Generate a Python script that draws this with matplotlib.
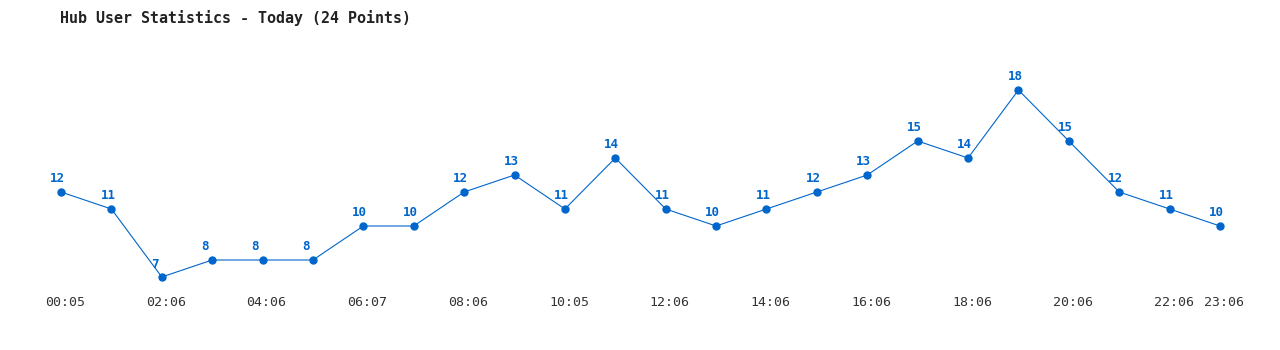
import matplotlib
matplotlib.use("Agg")
import matplotlib.pyplot as plt

values = [12, 11, 7, 8, 8, 8, 10, 10, 12, 13, 11, 14, 11, 10, 11, 12, 13, 15, 14, 18, 15, 12, 11, 10]
tick_positions = [0, 2, 4, 6, 8, 10, 12, 14, 16, 18, 20, 22, 23]
tick_labels = ["00:05", "02:06", "04:06", "06:07", "08:06", "10:05", "12:06",
               "14:06", "16:06", "18:06", "20:06", "22:06", "23:06"]
title = "Hub User Statistics - Today (24 Points)"

W, H = 1280, 350
fig = plt.figure(figsize=(W / 100, H / 100), dpi=100)
ax = fig.add_axes([0, 0, 1, 1])

# pixel mapping: index 0 -> x=61, 23 -> x=1220; value 7 -> y=277, 18 -> y=90
step = (1220 - 61) / 23
x0 = -61 / step
x1 = (W - 61) / step
upp = 17.0  # pixels per unit
ytop = 7 + 277 / upp
ybot = 7 - (H - 277) / upp
ax.set_xlim(x0, x1)
ax.set_ylim(ybot, ytop)
ax.axis("off")

color = "#0066cc"
xs = list(range(len(values)))
ax.plot(xs, values, color=color, lw=0.8, marker="o", ms=5, mec=color, mfc=color, zorder=3)
for x, v in zip(xs, values):
    ax.annotate(str(v), (x, v), xytext=(-11, 13), textcoords="offset pixels",
                ha="left", va="center", fontsize=9, fontweight="bold",
                family="DejaVu Sans Mono", color=color)

label_y = 7 - (303 - 277) / upp
for p, lab in zip(tick_positions, tick_labels):
    ax.annotate(lab, (p, label_y), xytext=(4, 0), textcoords="offset pixels",
                ha="center", va="center", fontsize=9.5,
                family="DejaVu Sans Mono", color="#333333")

fig.text(60 / W, 1 - 18 / H, title, ha="left", va="center", fontsize=10.8,
         fontweight="bold", family="DejaVu Sans Mono", color="#222222")

fig.savefig("out.png", dpi=100)
